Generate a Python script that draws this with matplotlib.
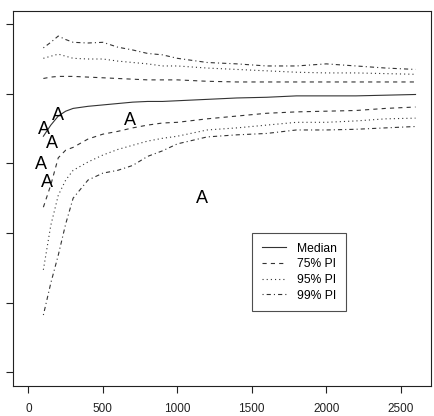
import numpy as np
import matplotlib.pyplot as plt

plt.rcParams['font.family'] = ['Liberation Sans', 'DejaVu Sans']
plt.rcParams['lines.scale_dashes'] = False

# Data
x = [100, 150, 200, 250, 300, 400, 500, 600, 700, 800, 900, 1000,
     1200, 1400, 1600, 1800, 2000, 2200, 2400, 2600]
median = [3.39, 3.55, 3.68, 3.75, 3.79, 3.82, 3.84, 3.86, 3.88, 3.89, 3.89, 3.90,
          3.92, 3.94, 3.95, 3.97, 3.97, 3.97, 3.98, 3.99]
pi75_hi = [4.22, 4.24, 4.25, 4.25, 4.25, 4.24, 4.23, 4.22, 4.21, 4.20, 4.20, 4.20,
           4.18, 4.17, 4.17, 4.17, 4.17, 4.17, 4.17, 4.17]
pi75_lo = [2.37, 2.69, 3.08, 3.19, 3.23, 3.35, 3.42, 3.46, 3.51, 3.55, 3.58, 3.59,
           3.64, 3.68, 3.72, 3.74, 3.75, 3.76, 3.79, 3.81]
pi95_hi = [4.51, 4.54, 4.57, 4.54, 4.51, 4.50, 4.50, 4.47, 4.45, 4.43, 4.40, 4.40,
           4.37, 4.35, 4.33, 4.31, 4.30, 4.30, 4.29, 4.28]
pi95_lo = [1.47, 2.11, 2.54, 2.76, 2.90, 3.02, 3.12, 3.20, 3.26, 3.32, 3.36, 3.39,
           3.48, 3.51, 3.55, 3.59, 3.59, 3.61, 3.64, 3.65]
pi99_hi = [4.66, 4.74, 4.83, 4.78, 4.74, 4.73, 4.74, 4.67, 4.63, 4.58, 4.56, 4.51,
           4.45, 4.43, 4.40, 4.40, 4.43, 4.40, 4.37, 4.35]
pi99_lo = [0.82, 1.28, 1.68, 2.13, 2.50, 2.76, 2.86, 2.90, 2.97, 3.10, 3.18, 3.28,
           3.38, 3.41, 3.43, 3.48, 3.48, 3.49, 3.51, 3.53]

# Observed points, drawn with the letter "A"
obs_x = [101, 201, 161, 87, 121, 685, 1168]
obs_y = [3.48, 3.69, 3.29, 2.99, 2.73, 3.61, 2.50]

fig = plt.figure(figsize=(4.35, 4.16), dpi=100)
ax = fig.add_axes([13 / 435, 1 - 386 / 416, 418 / 435, 375 / 416])

col = '#333333'
lw = 0.8
ax.plot(x, median, color=col, lw=lw, ls='-', label='Median')
ax.plot(x, pi75_hi, color=col, lw=lw, ls=(0, (3, 3)), label='75% PI')
ax.plot(x, pi75_lo, color=col, lw=lw, ls=(0, (3, 3)))
ax.plot(x, pi95_hi, color=col, lw=lw, ls=(0, (0.8, 2.2)), label='95% PI')
ax.plot(x, pi95_lo, color=col, lw=lw, ls=(0, (0.8, 2.2)))
ax.plot(x, pi99_hi, color=col, lw=lw, ls=(0, (0.8, 2.2, 3, 2.2)), label='99% PI')
ax.plot(x, pi99_lo, color=col, lw=lw, ls=(0, (0.8, 2.2, 3, 2.2)))

for px, py in zip(obs_x, obs_y):
    ax.text(px, py, 'A', fontsize=13, ha='center', va='center', color='black')

ax.set_xlim(-104, 2704)
ax.set_ylim(-0.2, 5.19)
ax.set_xticks([0, 500, 1000, 1500, 2000, 2500])
ax.set_yticks([0, 1, 2, 3, 4, 5])
ax.set_yticklabels([])
ax.tick_params(direction='out', length=5, width=0.8, labelsize=8.5, pad=7, colors='#222222')
for s in ax.spines.values():
    s.set_linewidth(0.8)
    s.set_color('#222222')

leg = ax.legend(loc='upper left', bbox_to_anchor=((252 - 13) / 418, (386 - 233) / 375),
                fontsize=8.7, frameon=True, fancybox=False, handlelength=2.0,
                borderpad=0.8, labelspacing=0.3, handletextpad=0.9, borderaxespad=0)
leg.get_frame().set_edgecolor('#222222')
leg.get_frame().set_linewidth(0.8)

fig.savefig('out.png', dpi=100)
